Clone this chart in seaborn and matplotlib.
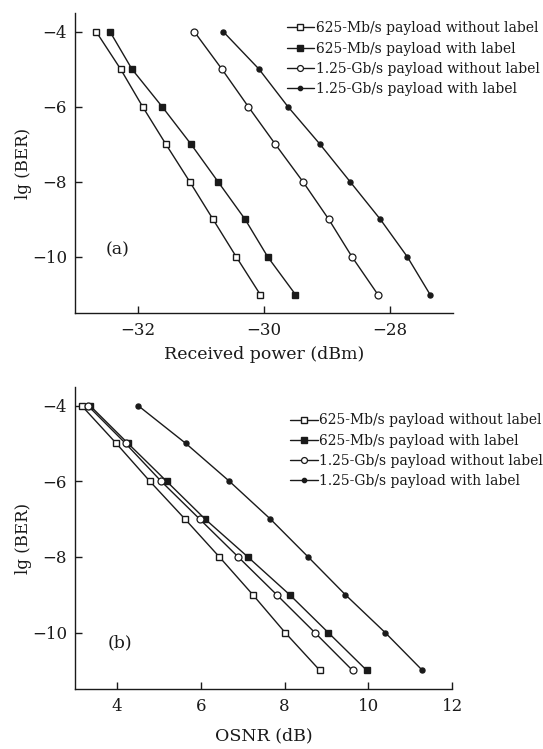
import numpy as np
import pandas as pd
import matplotlib
matplotlib.use("Agg")
import matplotlib.pyplot as plt
import seaborn as sns

# lg(BER) levels shared by every curve
ber = [-4, -5, -6, -7, -8, -9, -10, -11]

labels = ["625-Mb/s payload without label",
          "625-Mb/s payload with label",
          "1.25-Gb/s payload without label",
          "1.25-Gb/s payload with label"]

# (a) received power, dBm
power_625_nolabel = [-32.67, -32.28, -31.93, -31.56, -31.18, -30.81, -30.44, -30.06]
power_625_label = [-32.45, -32.10, -31.62, -31.16, -30.73, -30.30, -29.94, -29.50]
power_125_nolabel = [-31.11, -30.67, -30.25, -29.82, -29.38, -28.97, -28.60, -28.19]
power_125_label = [-30.65, -30.08, -29.62, -29.11, -28.63, -28.15, -27.72, -27.36]

# (b) OSNR, dB
osnr_625_nolabel = [3.15, 3.98, 4.78, 5.62, 6.44, 7.24, 8.01, 8.84]
osnr_625_label = [3.35, 4.26, 5.18, 6.10, 7.12, 8.12, 9.04, 9.96]
osnr_125_nolabel = [3.30, 4.20, 5.05, 5.97, 6.89, 7.81, 8.72, 9.62]
osnr_125_label = [4.50, 5.64, 6.68, 7.66, 8.56, 9.45, 10.40, 11.29]

sns.set_theme(style="ticks")
plt.rcParams['font.family'] = ['DejaVu Serif', 'DejaVu Sans']
plt.rcParams['mathtext.fontset'] = 'dejavuserif'

ink = "#1a1a1a"
marker_styles = [
    dict(marker="s", markersize=5.0, markerfacecolor="white", markeredgewidth=1.0),
    dict(marker="s", markersize=5.0, markerfacecolor=ink, markeredgewidth=1.0),
    dict(marker="o", markersize=5.0, markerfacecolor="white", markeredgewidth=0.9),
    dict(marker="o", markersize=3.6, markerfacecolor=ink, markeredgewidth=1.0),
]


def make_df(xs):
    rows = []
    for lab, x in zip(labels, xs):
        for xv, yv in zip(x, ber):
            rows.append({"x": xv, "ber": yv, "series": lab})
    return pd.DataFrame(rows)


def draw_panel(ax, df, tag, tag_pos, legend_anchor):
    for lab, ms in zip(labels, marker_styles):
        sub = df[df["series"] == lab]
        sns.lineplot(data=sub, x="x", y="ber", ax=ax, color=ink, lw=1.0,
                     markeredgecolor=ink, label=lab, sort=False, **ms)
    sns.despine(ax=ax)
    ax.tick_params(direction="in", length=5, width=1.0, labelsize=12, colors=ink, pad=6)
    for s in ["left", "bottom"]:
        ax.spines[s].set_linewidth(1.0)
        ax.spines[s].set_color(ink)
    ax.set_ylim(-11.5, -3.5)
    ax.set_yticks([-4, -6, -8, -10])
    ax.set_yticklabels(["\u22124", "\u22126", "\u22128", "\u221210"])
    ax.set_ylabel("lg (BER)", fontsize=12, color=ink, labelpad=0)
    ax.text(tag_pos[0], tag_pos[1], tag, transform=ax.transAxes, fontsize=12.5,
            ha="center", va="center", color=ink)
    leg = ax.legend(loc="upper left", bbox_to_anchor=legend_anchor, frameon=False,
                    fontsize=10, handlelength=2.0, handletextpad=0.1,
                    labelspacing=0.45, borderaxespad=0, markerscale=0.85)
    for t in leg.get_texts():
        t.set_color(ink)


fig = plt.figure(figsize=(5.43, 7.49), dpi=100)
ax1 = fig.add_axes([0.1387, 0.5817, 0.695, 0.4013])
ax2 = fig.add_axes([0.1387, 0.0797, 0.694, 0.404])

draw_panel(ax1, make_df([power_625_nolabel, power_625_label,
                         power_125_nolabel, power_125_label]),
           "(a)", (0.113, 0.21), (0.545, 0.99))
ax1.set_xlim(-33, -27)
ax1.set_xticks([-32, -30, -28])
ax1.set_xticklabels(["\u221232", "\u221230", "\u221228"])
ax1.set_xlabel("Received power (dBm)", fontsize=12.5, color=ink, labelpad=5)

draw_panel(ax2, make_df([osnr_625_nolabel, osnr_625_label,
                         osnr_125_nolabel, osnr_125_label]),
           "(b)", (0.119, 0.152), (0.555, 0.93))
ax2.set_xlim(3, 12)
ax2.set_xticks([4, 6, 8, 10, 12])
ax2.set_xlabel("OSNR (dB)", fontsize=12.5, color=ink, labelpad=9)

fig.savefig("out.png", dpi=100)
